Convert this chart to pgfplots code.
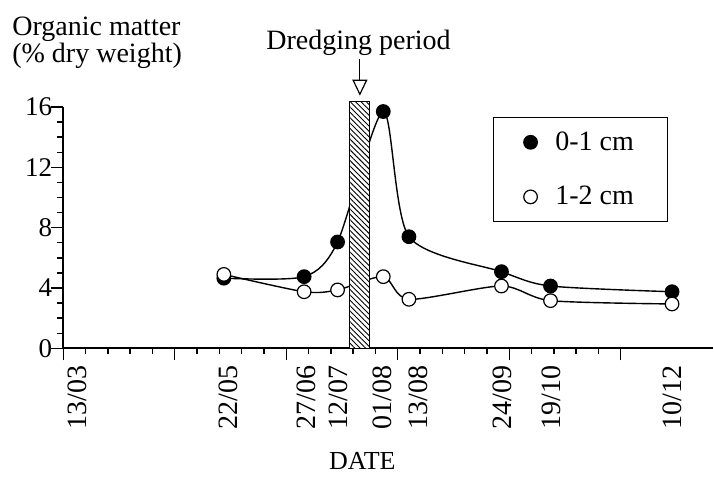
\documentclass[border=0pt]{standalone}
\usepackage{fontspec}
\setmainfont{Liberation Serif}
\usepackage{pgfplots}
\pgfplotsset{compat=1.18}
\usetikzlibrary{patterns.meta, arrows.meta}

% x = days after 13/03
\pgfplotstableread{
x     top    sub
72    4.65   4.90
108   4.75   3.75
123   7.05   3.87
143.5 15.70  4.75
155   7.40   3.25
196.5 5.08   4.13
218.5 4.13   3.16
273   3.75   2.94
}\organic

\begin{document}
\begin{tikzpicture}
\path[use as bounding box] (-31.65pt,-64.35pt) rectangle (325.35pt,174.15pt);
\begin{axis}[
    at={(0pt,0pt)}, anchor=south west,
    scale only axis,
    width=325pt, height=120.65pt,
    xmin=0, xmax=291.5,
    ymin=0, ymax=16,
    clip=false,
    axis lines=left,
    axis line style={-, line width=0.9pt},
    tick align=outside,
    major tick length=6pt,
    minor tick length=3pt,
    tick style={black, line width=0.7pt},
    xtick={0,50,...,250},
    xticklabels={},
    minor x tick num=4,
    extra x ticks={6.5,74,109,123.5,143,159,197,219,273},
    extra x tick labels={13/03,22/05,27/06,12/07,01/08,13/08,24/09,19/10,10/12},
    extra x tick style={major tick length=0pt, xticklabel shift=5pt,
        tick label style={font=\fontsize{14}{14}\selectfont, rotate=90, anchor=east}},
    ytick={0,4,8,12,16},
    minor y tick num=3,
    yticklabel style={font=\fontsize{13.5}{13.5}\selectfont, xshift=4pt},
    /pgf/number format/assume math mode=true,
    xlabel={DATE},
    xlabel style={font=\fontsize{13}{13}\selectfont, at={(axis description cs:0.46,-0.504)}, anchor=base},
    ylabel={Organic matter\\(\% dry weight)},
    ylabel style={rotate=-90, align=left, font=\fontsize{14}{11.5}\selectfont,
        at={(axis description cs:-0.079,1.375)}, anchor=north west, inner sep=0pt},
    legend style={at={(0.6615,0.9586)}, anchor=north west, draw=black, line width=0.5pt,
        font=\fontsize{14}{14}\selectfont, inner xsep=15pt, inner ysep=5pt,
        row sep=12.5pt, column sep=7pt},
    legend cell align=left,
]
\addplot[black, line width=0.7pt, smooth, tension=0.45, forget plot] table[x=x, y=top] {\organic};
\addplot[black, line width=0.7pt, smooth, tension=0.45, forget plot] table[x=x, y=sub] {\organic};

\addplot[draw=black, line width=0.6pt, fill=white,
    postaction={pattern={Lines[angle=-45, distance=1.9pt, line width=0.45pt]}}, forget plot]
    coordinates {(128.3,16.35) (137.3,16.35)} \closedcycle;

\addplot[only marks, mark=*, mark size=3.4pt, mark options={draw=black, fill=black, line width=0.6pt}]
    table[x=x, y=top] {\organic};
\addlegendentry{0-1 cm}
\addplot[only marks, mark=*, mark size=3.4pt, mark options={draw=black, fill=white, line width=0.6pt}]
    table[x=x, y=sub] {\organic};
\addlegendentry{1-2 cm}

\node[font=\fontsize{14}{14}\selectfont, anchor=base] at (axis cs:132.4,19.78) {Dredging period};
\draw[-{Triangle[open, width=7.5pt, length=8pt]}, line width=0.6pt] (axis cs:133,19.2) -- (axis cs:133,16.75);
\end{axis}
\end{tikzpicture}
\end{document}
